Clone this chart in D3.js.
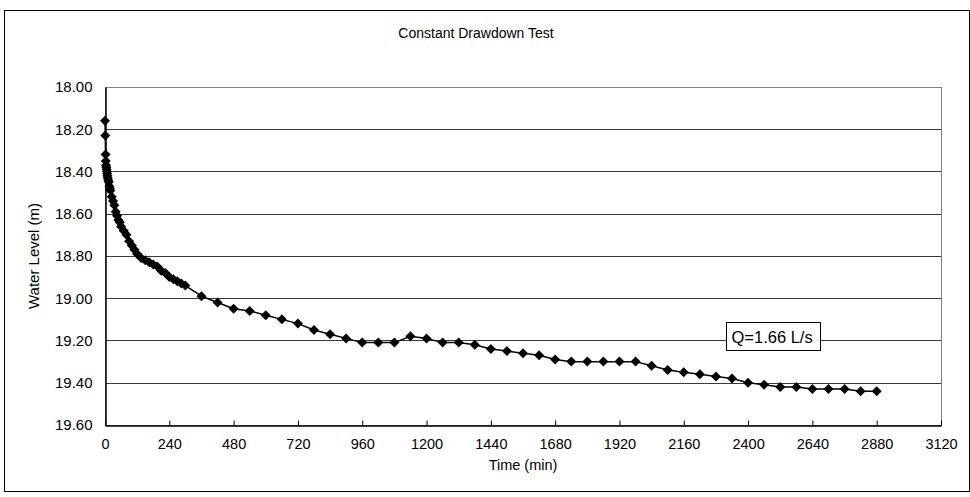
<!DOCTYPE html>
<html>
<head>
<meta charset="utf-8">
<script src="https://cdn.jsdelivr.net/npm/d3@7"></script>
<style>
  html, body { margin: 0; padding: 0; background: #fff; }
  svg { display: block; }
</style>
</head>
<body>
<svg id="chart" width="970" height="497"></svg>
<script>
// Constant drawdown test - water level vs time
const timeMin = [
  0, 1, 2, 3, 4, 5, 6, 7, 8, 9, 10, 12, 14, 16, 18, 20, 25, 30, 35, 40, 45, 50, 55, 60,
  70, 80, 90, 100, 110, 120, 135, 150, 165, 180, 195, 210, 225, 240, 255, 270, 285, 300,
  360, 420, 480, 540, 600, 660, 720, 780, 840, 900, 960, 1020, 1080, 1140, 1200, 1260,
  1320, 1380, 1440, 1500, 1560, 1620, 1680, 1740, 1800, 1860, 1920, 1980, 2040, 2100,
  2160, 2220, 2280, 2340, 2400, 2460, 2520, 2580, 2640, 2700, 2760, 2820, 2880
];
const waterLevel = [
  18.16, 18.23, 18.32, 18.35, 18.37, 18.38, 18.39, 18.40, 18.41, 18.42, 18.43, 18.44, 18.45, 18.47, 18.48, 18.49, 18.52, 18.54, 18.56, 18.59, 18.61, 18.63, 18.64, 18.66,
  18.68, 18.70, 18.73, 18.75, 18.77, 18.79, 18.81, 18.82, 18.83, 18.84, 18.85, 18.87, 18.88, 18.90, 18.91, 18.92, 18.93, 18.94,
  18.99, 19.02, 19.05, 19.06, 19.08, 19.10, 19.12, 19.15, 19.17, 19.19, 19.21, 19.21, 19.21, 19.18, 19.19, 19.21,
  19.21, 19.22, 19.24, 19.25, 19.26, 19.27, 19.29, 19.30, 19.30, 19.30, 19.30, 19.30, 19.32, 19.34,
  19.35, 19.36, 19.37, 19.38, 19.40, 19.41, 19.42, 19.42, 19.43, 19.43, 19.43, 19.44, 19.44
];
const xTicks = d3.range(0, 3121, 240);
const yTicks = [18.0, 18.2, 18.4, 18.6, 18.8, 19.0, 19.2, 19.4, 19.6];

const titleText = "Constant Drawdown Test";
const xTitle = "Time (min)";
const yTitle = "Water Level (m)";
const noteText = "Q=1.66 L/s";

const svg = d3.select("#chart");

// chart frame
svg.append("rect")
  .attr("x", 4.5).attr("y", 10.5)
  .attr("width", 965).attr("height", 481)
  .attr("fill", "#fff").attr("stroke", "#000").attr("stroke-width", 1);

const plot = { left: 105, right: 941, top: 87, bottom: 425 };

const x = d3.scaleLinear().domain([0, 3120]).range([plot.left, plot.right]);
const y = d3.scaleLinear().domain([18.0, 19.6]).range([plot.top, plot.bottom]);

// grid lines
svg.append("g")
  .selectAll("line")
  .data(yTicks)
  .join("line")
  .attr("x1", plot.left).attr("x2", plot.right)
  .attr("y1", d => Math.round(y(d)) + 0.5)
  .attr("y2", d => Math.round(y(d)) + 0.5)
  .attr("stroke", "#3a3a3a").attr("stroke-width", 1);

// plot border
svg.append("rect")
  .attr("x", plot.left + 0.5).attr("y", plot.top + 0.5)
  .attr("width", plot.right - plot.left).attr("height", plot.bottom - plot.top)
  .attr("fill", "none").attr("stroke", "#808080").attr("stroke-width", 1);

// x axis
const xAxis = d3.axisBottom(x)
  .tickValues(xTicks)
  .tickSizeInner(-5).tickSizeOuter(0)
  .tickPadding(13)
  .tickFormat(d3.format("d"));
const gx = svg.append("g")
  .attr("transform", `translate(0,${plot.bottom + 0.5})`)
  .call(xAxis);
gx.select(".domain").attr("stroke", "#000").attr("stroke-width", 1.5);
gx.selectAll(".tick line").attr("stroke", "#000");
gx.selectAll(".tick text")
  .attr("font-family", "Liberation Sans, Arial, sans-serif")
  .attr("font-size", 14.5).attr("fill", "#000");

// y axis
const yAxis = d3.axisLeft(y)
  .tickValues(yTicks)
  .tickSizeInner(0).tickSizeOuter(0)
  .tickPadding(13)
  .tickFormat(d3.format(".2f"));
const gy = svg.append("g")
  .attr("transform", `translate(${plot.left + 0.5},0)`)
  .call(yAxis);
gy.select(".domain").attr("stroke", "#000").attr("stroke-width", 1.5);
gy.selectAll(".tick text")
  .attr("font-family", "Liberation Sans, Arial, sans-serif")
  .attr("font-size", 15).attr("fill", "#000");

// series line
const pts = timeMin.map((t, i) => [t, waterLevel[i]]);
const line = d3.line().x(d => x(d[0])).y(d => y(d[1]));
svg.append("path")
  .datum(pts)
  .attr("d", line)
  .attr("fill", "none")
  .attr("stroke", "#000")
  .attr("stroke-width", 1.5);

// diamond markers
const diamond = d3.symbol().type(d3.symbolSquare).size(50);
svg.append("g")
  .selectAll("path")
  .data(pts)
  .join("path")
  .attr("d", diamond)
  .attr("transform", d => `translate(${x(d[0])},${y(d[1])}) rotate(45)`)
  .attr("fill", "#000");

// titles
svg.append("text")
  .attr("x", 476).attr("y", 38)
  .attr("text-anchor", "middle")
  .attr("font-family", "Liberation Sans, Arial, sans-serif")
  .attr("font-size", 14)
  .text(titleText);

svg.append("text")
  .attr("x", (plot.left + plot.right) / 2).attr("y", 470)
  .attr("text-anchor", "middle")
  .attr("font-family", "Liberation Sans, Arial, sans-serif")
  .attr("font-size", 14.5)
  .text(xTitle);

svg.append("text")
  .attr("transform", `translate(39,${(plot.top + plot.bottom) / 2}) rotate(-90)`)
  .attr("text-anchor", "middle")
  .attr("font-family", "Liberation Sans, Arial, sans-serif")
  .attr("font-size", 15)
  .text(yTitle);

// annotation box
const note = svg.append("g").attr("transform", "translate(726.5,322.5)");
note.append("rect")
  .attr("width", 94).attr("height", 28)
  .attr("fill", "#fff").attr("stroke", "#000").attr("stroke-width", 1);
note.append("text")
  .attr("x", 5).attr("y", 20)
  .attr("font-family", "Liberation Sans, Arial, sans-serif")
  .attr("font-size", 16.5)
  .text(noteText);
</script>
</body>
</html>
